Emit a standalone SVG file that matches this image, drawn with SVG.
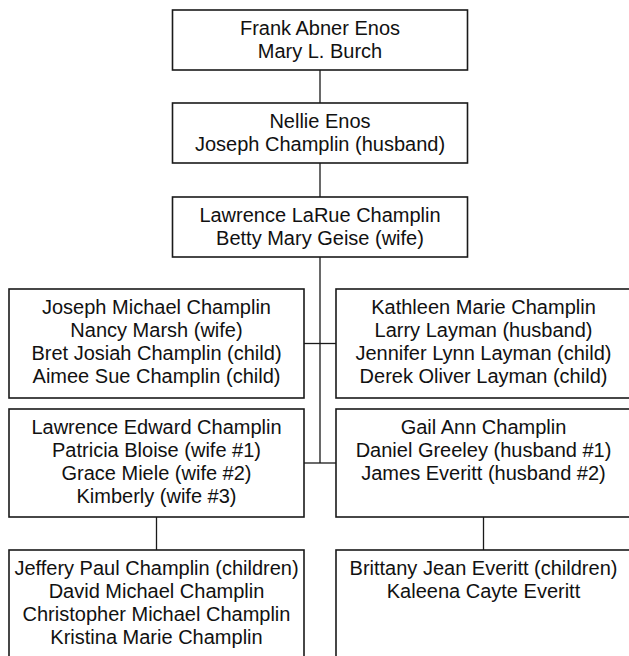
<svg xmlns="http://www.w3.org/2000/svg" width="629" height="656" viewBox="0 0 629 656">
<style>
.box{fill:#fff;stroke:#1a1a1a;stroke-width:1.6}
.ln{fill:none;stroke:#1a1a1a;stroke-width:1.3}
text{font-family:"Liberation Sans",Arial,Helvetica,sans-serif;font-size:20px;fill:#111;text-anchor:middle}
</style>
<rect width="629" height="656" fill="#fff"/>
<g id="connectors">
<line class="ln" x1="320" y1="70" x2="320" y2="103"/>
<line class="ln" x1="320" y1="163" x2="320" y2="197"/>
<line class="ln" x1="320" y1="257" x2="320" y2="463"/>
<line class="ln" x1="304" y1="343.5" x2="336" y2="343.5"/>
<line class="ln" x1="304" y1="463" x2="336" y2="463"/>
<line class="ln" x1="156.5" y1="517" x2="156.5" y2="550"/>
<line class="ln" x1="483.5" y1="517" x2="483.5" y2="550"/>
</g>
<g id="n1">
<rect class="box" x="172.5" y="10" width="295" height="60"/>
<text x="320" y="34.5">Frank Abner Enos</text>
<text x="320" y="57.8">Mary L. Burch</text>
</g>
<g id="n2">
<rect class="box" x="172.5" y="103" width="295" height="60"/>
<text x="320" y="127.5">Nellie Enos</text>
<text x="320" y="150.8">Joseph Champlin (husband)</text>
</g>
<g id="n3">
<rect class="box" x="172.5" y="197" width="295" height="60"/>
<text x="320" y="221.5">Lawrence LaRue Champlin</text>
<text x="320" y="244.8">Betty Mary Geise (wife)</text>
</g>
<g id="n4">
<rect class="box" x="9" y="289" width="295" height="109"/>
<text x="156.5" y="313.5">Joseph Michael Champlin</text>
<text x="156.5" y="336.8">Nancy Marsh (wife)</text>
<text x="156.5" y="360.1">Bret Josiah Champlin (child)</text>
<text x="156.5" y="383.4">Aimee Sue Champlin (child)</text>
</g>
<g id="n5">
<rect class="box" x="336" y="289" width="295" height="109"/>
<text x="483.5" y="313.5">Kathleen Marie Champlin</text>
<text x="483.5" y="336.8">Larry Layman (husband)</text>
<text x="483.5" y="360.1">Jennifer Lynn Layman (child)</text>
<text x="483.5" y="383.4">Derek Oliver Layman (child)</text>
</g>
<g id="n6">
<rect class="box" x="9" y="409" width="295" height="108"/>
<text x="156.5" y="433.5">Lawrence Edward Champlin</text>
<text x="156.5" y="456.8">Patricia Bloise (wife #1)</text>
<text x="156.5" y="480.1">Grace Miele (wife #2)</text>
<text x="156.5" y="503.4">Kimberly (wife #3)</text>
</g>
<g id="n7">
<rect class="box" x="336" y="409" width="295" height="108"/>
<text x="483.5" y="433.5">Gail Ann Champlin</text>
<text x="483.5" y="456.8">Daniel Greeley (husband #1)</text>
<text x="483.5" y="480.1">James Everitt (husband #2)</text>
</g>
<g id="n8">
<rect class="box" x="9" y="550" width="295" height="108"/>
<text x="156.5" y="574.5">Jeffery Paul Champlin (children)</text>
<text x="156.5" y="597.8">David Michael Champlin</text>
<text x="156.5" y="621.1">Christopher Michael Champlin</text>
<text x="156.5" y="644.4">Kristina Marie Champlin</text>
</g>
<g id="n9">
<rect class="box" x="336" y="550" width="295" height="108"/>
<text x="483.5" y="574.5">Brittany Jean Everitt (children)</text>
<text x="483.5" y="597.8">Kaleena Cayte Everitt</text>
</g>
</svg>
